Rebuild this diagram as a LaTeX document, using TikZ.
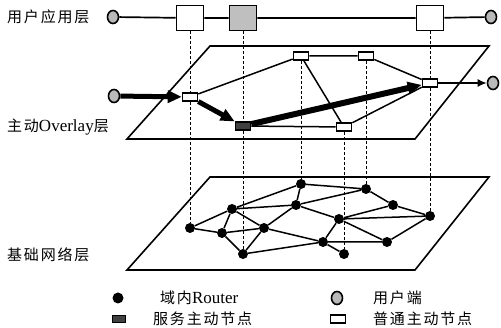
\documentclass[tikz,border=0pt]{standalone}
\usepackage{fontspec}
\setmainfont{Liberation Serif}
\newfontfamily\cjk[LetterSpace=12]{Noto Sans CJK SC}
\usetikzlibrary{arrows.meta, shapes.geometric}

\begin{document}
\begin{tikzpicture}[x=1pt, y=-1pt,
    ubox/.style={draw, line width=1.7pt, fill=white, minimum width=27pt, minimum height=25pt, inner sep=0pt},
    onode/.style={draw, line width=1.6pt, fill=white, minimum width=15pt, minimum height=8pt, inner sep=0pt},
    snode/.style={onode, fill=black!75},
    user/.style={draw, ellipse, line width=1.6pt, fill=gray!55, minimum width=11pt, minimum height=13pt, inner sep=0pt},
    router/.style={circle, fill=black, minimum size=10pt, inner sep=0pt},
    plane/.style={line width=1.6pt},
    link/.style={line width=1.5pt},
    vline/.style={densely dashed, line width=0.9pt},
    bigarrow/.style={line width=5pt, -{Triangle[length=14pt,width=12pt]}},
    lbl/.style={font=\fontsize{15}{15}\selectfont, anchor=west, inner sep=0pt}
]
    \useasboundingbox (0,0) rectangle (501,328);

    % planes
    \draw[plane] (127,139) -- (415,139) -- (489,46) -- (210,46) -- cycle;
    \draw[plane] (127,270) -- (415,270) -- (489,177) -- (210,177) -- cycle;

    % layer labels
    \node[lbl] (l-app) at (7,17) {\cjk 用户应用层};
    \node[lbl] (l-ovl) at (7,127) {\cjk 主动{\fontsize{17}{17}\selectfont\rmfamily Overlay}层};
    \node[lbl] (l-net) at (7,255) {\cjk 基础网络层};

    % user application layer
    \node[user] (uL) at (113,17) {};
    \node[user] (uR) at (491,17) {};
    \node[ubox] (app1) at (190,18) {};
    \node[ubox, fill=gray!50] (app2) at (243,18) {};
    \node[ubox] (app3) at (430,18) {};

    % overlay layer
    \node[user] (uL2) at (114,96) {};
    \node[user] (uR2) at (493,83) {};
    \node[onode] (A) at (190,97) {};
    \node[snode] (B) at (243,126) {};
    \node[onode] (C) at (301,56) {};
    \node[onode] (D) at (366,56) {};
    \node[onode] (E) at (344,127) {};
    \node[onode] (F) at (430,83) {};

    % routers
    \node[router] (r1) at (301,184) {};
    \node[router] (r2) at (366,189) {};
    \node[router] (r3) at (232,209) {};
    \node[router] (r4) at (296,205) {};
    \node[router] (r5) at (393,205) {};
    \node[router] (r6) at (190,228) {};
    \node[router] (r7) at (222,233) {};
    \node[router] (r8) at (264,228) {};
    \node[router] (r9) at (339,219) {};
    \node[router] (r10) at (430,216) {};
    \node[router] (r11) at (323,242) {};
    \node[router] (r12) at (387,242) {};
    \node[router] (r13) at (243,254) {};
    \node[router] (r14) at (344,254) {};

    % vertical mappings
    \draw[vline] (app1) -- (A) -- (r6);
    \draw[vline] (app2) -- (B) -- (r13);
    \draw[vline] (C) -- (r1);
    \draw[vline] (E) -- (r14);
    \draw[vline] (D) -- (r2);
    \draw[vline] (app3) -- (F) -- (r10);

    % application path
    \draw[line width=1.7pt] (uL) -- (app1) -- (app2) -- (app3) -- (uR);

    % overlay links
    \draw[link] (A) -- (C) (C) -- (D) (D) -- (F) (C) -- (E) (E) -- (F) (B) -- (E);
    \draw[link, -{Latex[length=9pt,width=8pt]}] (F) -- (uR2);
    \draw[bigarrow] (uL2) -- (A);
    \draw[bigarrow] (A) -- (B);
    \draw[bigarrow, line width=6pt] (B) -- (F);

    % router links
    \draw[link] (r1) -- (r2) (r1) -- (r4) (r3) -- (r1) (r3) -- (r4) (r4) -- (r2)
        (r2) -- (r5) (r5) -- (r10) (r3) -- (r6) (r3) -- (r7) (r3) -- (r8)
        (r6) -- (r7) (r7) -- (r8) (r7) -- (r13) (r8) -- (r13) (r8) -- (r4)
        (r8) -- (r11) (r13) -- (r11) (r4) -- (r9) (r9) -- (r5) (r9) -- (r10)
        (r9) -- (r12) (r9) -- (r11) (r11) -- (r12) (r11) -- (r14) (r12) -- (r10);

    % legend
    \node[router, minimum size=11pt] (k-r) at (118,298) {};
    \node[lbl] (k-r-t) at (160,298) {\cjk 域内{\fontsize{17}{17}\selectfont\rmfamily Router}};
    \node[snode, minimum width=13pt, minimum height=7pt] (k-s) at (119,319) {};
    \node[lbl] (k-s-t) at (153,319) {\cjk 服务主动节点};
    \node[user] (k-u) at (337,298) {};
    \node[lbl] (k-u-t) at (373,298) {\cjk 用户端};
    \node[onode] (k-o) at (338,319) {};
    \node[lbl] (k-o-t) at (373,319) {\cjk 普通主动节点};
\end{tikzpicture}
\end{document}
